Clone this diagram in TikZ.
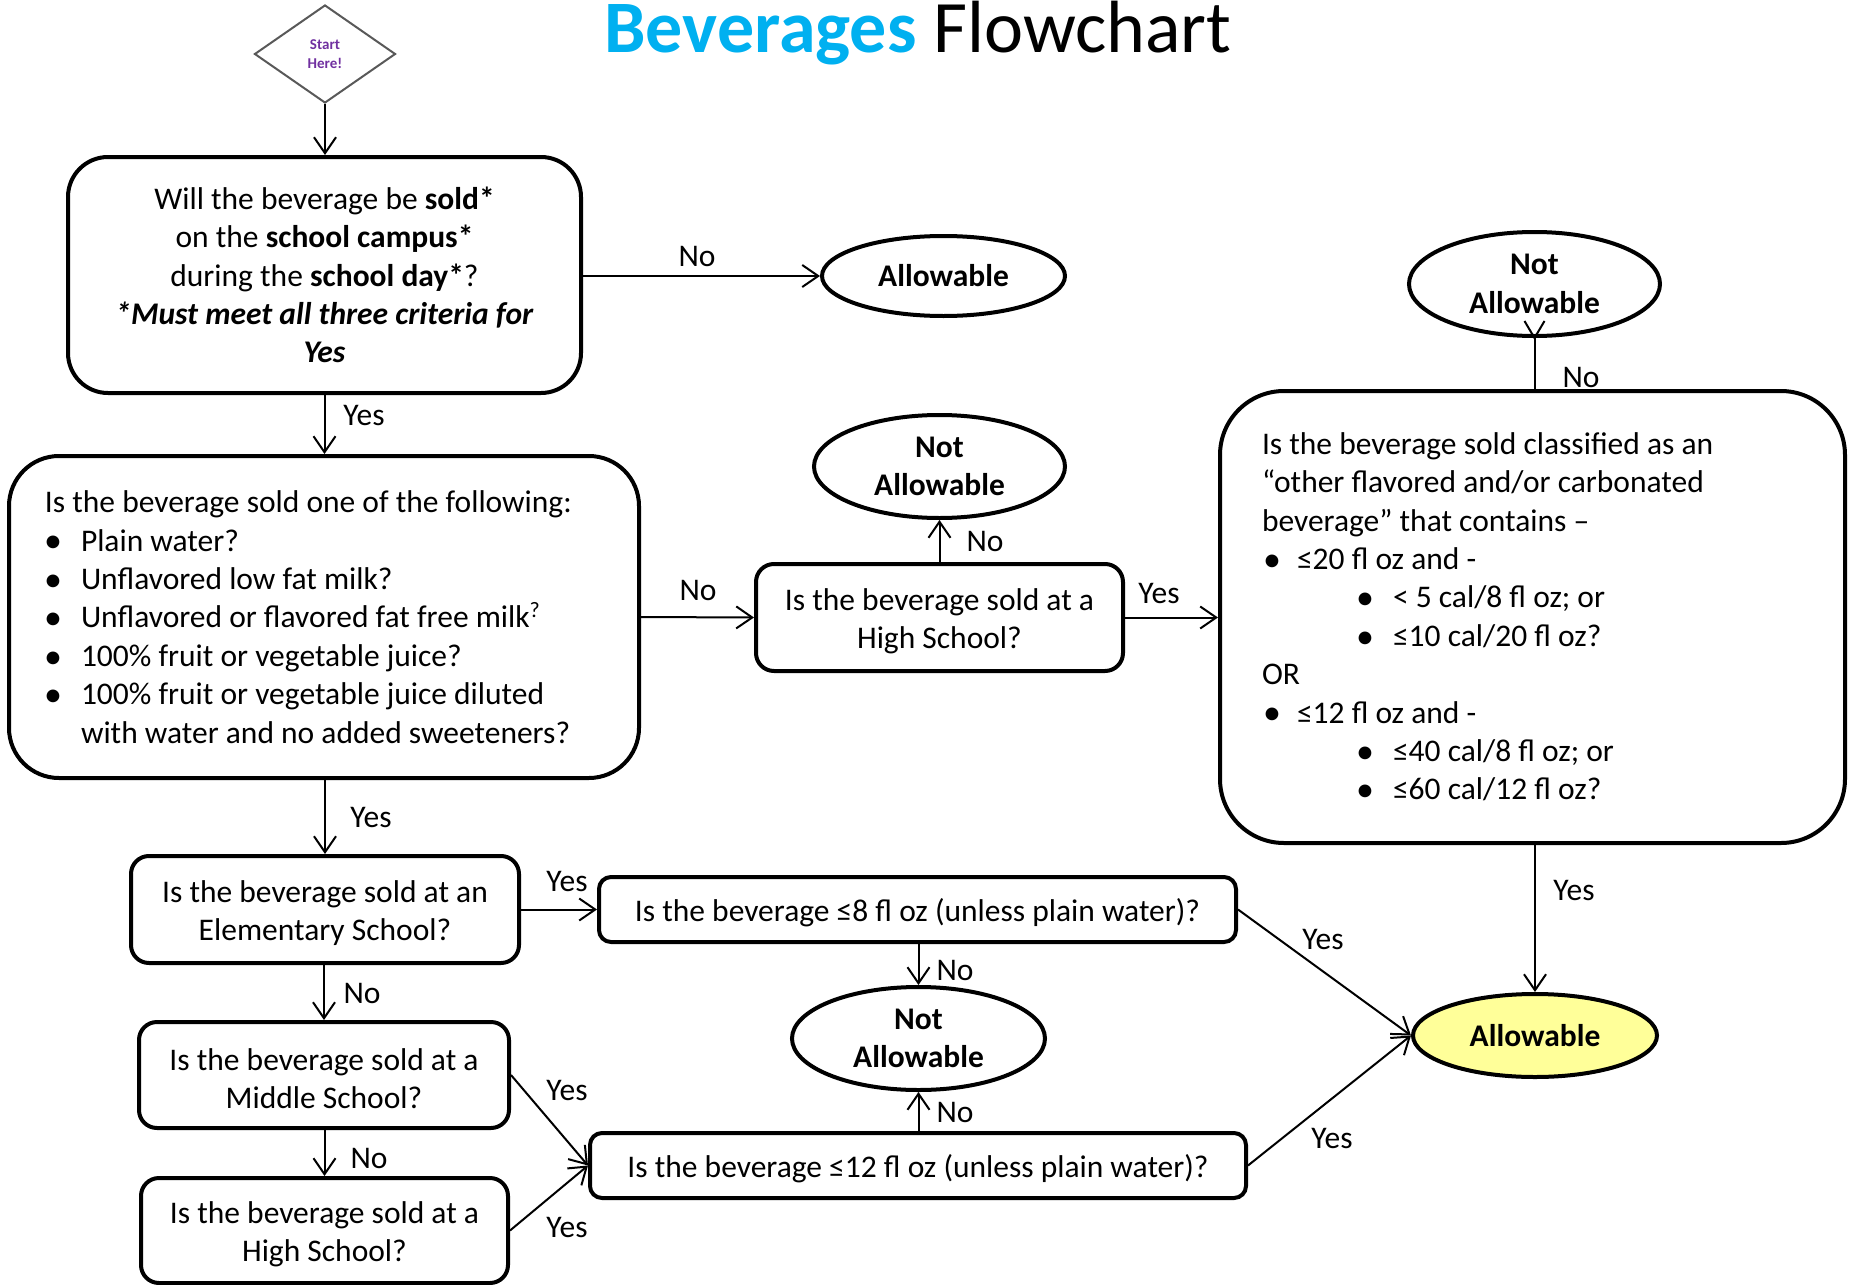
\documentclass[tikz,border=0pt]{standalone}
\usepackage{fontspec}
\setmainfont{Carlito}
\usetikzlibrary{shapes.geometric,arrows.meta}
\definecolor{titleblue}{HTML}{00B0F0}
\definecolor{startpurple}{HTML}{7030A0}
\definecolor{allowyellow}{HTML}{FFFF99}
\definecolor{diagray}{HTML}{595959}
\newcommand\bodyfont{\fontsize{15.75}{19.2}\selectfont}
\newcommand\bigdot{\raisebox{-0.9pt}{\fontsize{18}{18}\selectfont •}}
\newcommand\bulX{\hspace*{-0.5pt}\makebox[18.5pt][l]{\bigdot}}
\newcommand\indX{\hspace*{18pt}}
\newcommand\bulA{\hspace*{0.5pt}\makebox[17pt][l]{\bigdot}}
\newcommand\bulB{\hspace*{47pt}\makebox[18.5pt][l]{\bigdot}}
\newcommand\natsp{\spaceskip=0pt\relax\xspaceskip=0pt\relax}
\newcommand\up{\rule{0pt}{14.5pt}}
\begin{document}
\begin{tikzpicture}[x=0.5pt,y=-0.5pt,
  every node/.style={font=\bodyfont, inner sep=0pt},
  qbox/.style={draw, line width=2pt, rounded corners=9pt, align=center},
  oval/.style={draw, ellipse, line width=2pt, font=\bodyfont\bfseries, align=center},
  arr/.style={line width=1pt, -{Straight Barb[length=8pt,width=11pt,line width=1pt]}},
  plain/.style={line width=1pt},
]
\useasboundingbox (0,0) rectangle (1849,1285);

% title
\node[font=\fontsize{37}{44}\selectfont, anchor=base] (title) at (918,53)
  {\textcolor{titleblue}{\textbf{Beverages}} Flowchart};

% start diamond
\node[diamond, draw=diagray, line width=1pt, minimum width=70.5pt, minimum height=49pt,
      font=\fontsize{7.5}{9.5}\selectfont\bfseries, text=startpurple, align=center]
  (start) at (325,54) {Start\\Here!};

% nodes
\node[qbox, rounded corners=20pt, minimum width=256.5pt, minimum height=118pt] (box1) at (324.5,275)
  {Will the beverage be \textbf{sold*}\\on the \textbf{school campus*}\\during the \textbf{school day*}?\\
   \textbf{\textit{*Must meet all three criteria for}}\\\textbf{\textit{Yes}}};

\node[oval, minimum width=121.5pt, minimum height=40pt] (all1) at (943.5,276) {Allowable};

\node[qbox, rounded corners=25pt, minimum width=315pt, minimum height=161pt,
      text width=279pt, inner xsep=18pt, align=left] (box2) at (324,617)
  {\natsp Is the beverage sold one of the following:\\
   \bulX Plain water?\\
   \bulX Unflavored low fat milk?\\
   \bulX Unflavored or flavored fat free milk\textsuperscript{?}\\
   \bulX 100\% fruit or vegetable juice?\\
   \bulX 100\% fruit or vegetable juice diluted\\
   \indX with water and no added sweeteners?};

\node[qbox, minimum width=183.5pt, minimum height=53.5pt] (hs1) at (939.5,617.5)
  {\up Is the beverage sold at a\\High School?};

\node[oval, minimum width=125.5pt, minimum height=51.5pt] (namid) at (939.5,466.5) {Not\\Allowable};

\node[qbox, rounded corners=32pt, minimum width=312.5pt, minimum height=226pt,
      text width=270.5pt, inner xsep=21pt, align=left] (big) at (1532.5,617)
  {\natsp Is the beverage sold classified as an\\
   “other flavored and/or carbonated\\
   beverage” that contains –\\
   \bulA ≤20 fl oz and -\\
   \bulB < 5 cal/8 fl oz; or\\
   \bulB ≤10 cal/20 fl oz?\\
   OR\\
   \bulA ≤12 fl oz and -\\
   \bulB ≤40 cal/8 fl oz; or\\
   \bulB ≤60 cal/12 fl oz?};

\node[oval, minimum width=125.5pt, minimum height=52pt] (natop) at (1534.5,284) {Not\\Allowable};

\node[oval, fill=allowyellow, minimum width=122pt, minimum height=41.5pt] (allf) at (1535,1035.5) {Allowable};

\node[qbox, minimum width=194pt, minimum height=53.5pt] (elem) at (325,909.5)
  {\up Is the beverage sold at an\\Elementary School?};

\node[qbox, rounded corners=6pt, minimum width=318.5pt, minimum height=32.5pt] (q8) at (917.5,909.5)
  {\up Is the beverage ≤8 fl oz (unless plain water)?};

\node[oval, minimum width=126.5pt, minimum height=51.5pt] (nalow) at (918.5,1038.5) {Not\\Allowable};

\node[qbox, rounded corners=6pt, minimum width=328pt, minimum height=32.5pt] (q12) at (918,1165.5)
  {\up Is the beverage ≤12 fl oz (unless plain water)?};

\node[qbox, minimum width=185pt, minimum height=53pt] (mid) at (324,1075)
  {\up Is the beverage sold at a\\Middle School?};

\node[qbox, minimum width=183.5pt, minimum height=52.5pt] (hs2) at (324.5,1230.5)
  {\up Is the beverage sold at a\\High School?};

% connectors
\draw[arr] (start.south) -- (start.south |- box1.north);
\draw[arr] (box1.east |- all1.west) -- (all1.west);
\draw[arr] (box1.south) -- (box1.south |- box2.north);
\draw[arr] (box2.east) -- (hs1.west);
\draw[arr] (hs1.north) -- (namid.south);
\draw[arr] (hs1.east) -- (hs1.east -| big.west);
\draw[plain] (big.north -| natop.south) -- (natop.south);
\draw[plain] ([xshift=-5pt,yshift=8.5pt]natop.south) -- (natop.south) -- ([xshift=5pt,yshift=8.5pt]natop.south);
\draw[arr] (big.south -| allf.north) -- (allf.north);
\draw[arr] (box2.south -| elem.north) -- (elem.north);
\draw[arr] (elem.east) -- (q8.west);
\draw[arr] (q8.south -| nalow.north) -- (nalow.north);
\draw[arr] (q12.north -| nalow.south) -- (nalow.south);
\draw[arr] (q8.east) -- (allf.west);
\draw[arr] (q12.east) -- (allf.west);
\draw[arr] (elem.south -| mid.north) -- (mid.north);
\draw[arr] (mid.east) -- (q12.west);
\draw[arr] (mid.south -| hs2.north) -- (hs2.north);
\draw[arr] (hs2.east) -- (q12.west);

% labels
\node (l1) at (697,256) {No};
\node (l2) at (364,416) {Yes};
\node (l3) at (698,590) {No};
\node (l4) at (985,541) {No};
\node (l5) at (1159,594) {Yes};
\node (l6) at (1581,377) {No};
\node (l7) at (1574,891) {Yes};
\node (l8) at (371,818) {Yes};
\node (l9) at (567,882) {Yes};
\node (l10) at (955,970) {No};
\node (l11) at (955,1112) {No};
\node (l12) at (1323,940) {Yes};
\node (l13) at (1332,1138) {Yes};
\node (l14) at (362,993) {No};
\node (l15) at (567,1091) {Yes};
\node (l16) at (369,1158) {No};
\node (l17) at (567,1227) {Yes};
\end{tikzpicture}
\end{document}
